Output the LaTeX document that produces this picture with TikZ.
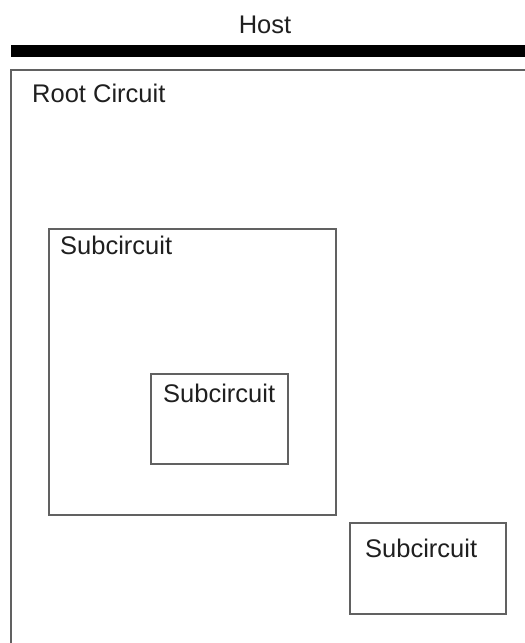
\documentclass[tikz,border=0pt]{standalone}
\usepackage{fontspec}
\setmainfont{Liberation Sans}
\begin{document}
\begin{tikzpicture}[x=1pt,y=-1pt,
  box/.style={draw=black!62, line width=2.8pt, anchor=north west, inner sep=0pt, outer sep=0pt},
  lbl/.style={anchor=base west, inner sep=0pt, text=black!88, font=\fontsize{25.5}{29}\selectfont}]
  \useasboundingbox (0,0) rectangle (525,643);
  \clip (0,0) rectangle (525,643);
  % host bus
  \node[lbl, anchor=base] (host) at (265,33) {Host};
  \fill[black] (11,45) rectangle (530,57);
  % root circuit frame, open to the right and bottom
  \node[box, minimum width=530pt, minimum height=600pt] (root) at (11,70) {};
  \node[lbl] (rootlbl) at (32,102) {Root Circuit};
  % nested subcircuits
  \node[box, minimum width=287pt, minimum height=286pt] (sub1) at (49,229) {};
  \node[lbl] (sub1lbl) at (60,254) {Subcircuit};
  \node[box, minimum width=137pt, minimum height=90pt] (sub2) at (151,374) {};
  \node[lbl] (sub2lbl) at (163,402) {Subcircuit};
  \node[box, minimum width=156pt, minimum height=91pt] (sub3) at (350,523) {};
  \node[lbl] (sub3lbl) at (365,557) {Subcircuit};
\end{tikzpicture}
\end{document}
